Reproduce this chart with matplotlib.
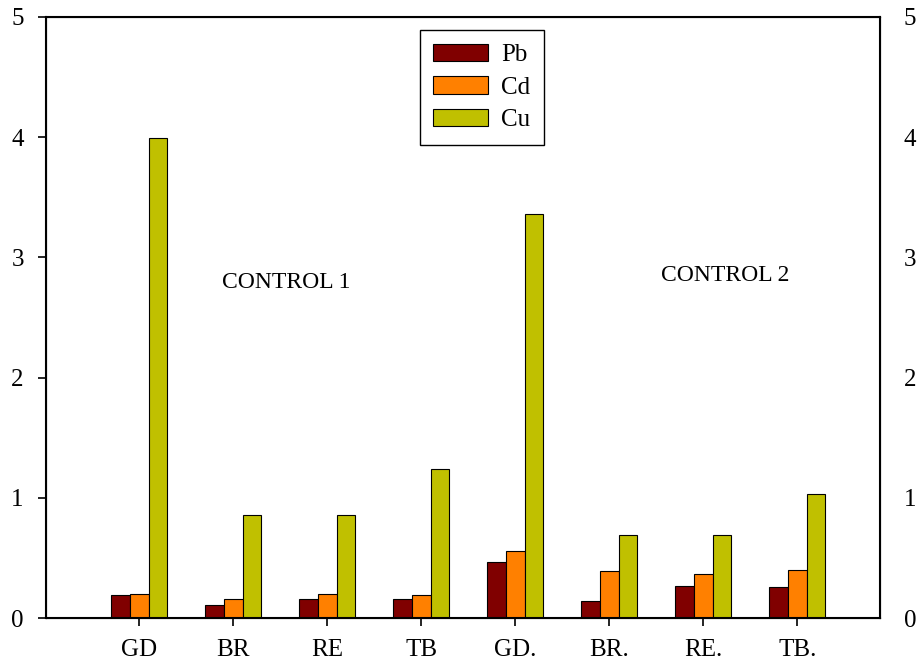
import numpy as np
import matplotlib.pyplot as plt
import matplotlib

matplotlib.rcParams['font.family'] = ['Liberation Serif', 'DejaVu Serif']

# data
categories = ['GD', 'BR', 'RE', 'TB', 'GD.', 'BR.', 'RE.', 'TB.']
pb = [0.19, 0.11, 0.16, 0.16, 0.47, 0.14, 0.27, 0.26]
cd = [0.20, 0.16, 0.20, 0.19, 0.56, 0.39, 0.37, 0.40]
cu = [3.99, 0.86, 0.86, 1.24, 3.36, 0.69, 0.69, 1.03]

SERIES = [
    ('Pb', pb, '#800000'),
    ('Cd', cd, '#FF8000'),
    ('Cu', cu, '#C0C000'),
]

fig = plt.figure(figsize=(9.21, 6.66), dpi=100)
ax = fig.add_axes([0.05, 0.072, 0.9055, 0.9025])

x = np.arange(len(categories))
w = 0.2
for i, (label, vals, color) in enumerate(SERIES):
    ax.bar(x + (i - 1) * w, vals, width=w, color=color,
           edgecolor='black', linewidth=0.8, label=label)

ax.set_xlim(-0.99, 7.88)
ax.set_ylim(0, 5)
ax.set_xticks(x)
ax.set_xticklabels(categories, fontsize=18)
ax.set_yticks(range(6))
ax.tick_params(axis='y', labelsize=18, length=6, width=1.2, pad=10)
ax.tick_params(axis='x', length=6, width=1.2, pad=9)
for s in ax.spines.values():
    s.set_linewidth(1.5)

ax2 = ax.twinx()
ax2.set_ylim(0, 5)
ax2.set_yticks(range(6))
ax2.tick_params(axis='y', labelsize=18, length=0, pad=17)

ax.text(1.56, 2.79, 'CONTROL 1', fontsize=17, ha='center', va='center')
ax.text(6.23, 2.85, 'CONTROL 2', fontsize=17, ha='center', va='center')

leg = ax.legend(loc='upper center', bbox_to_anchor=(0.5225, 0.978), fontsize=18,
                handlelength=2.2, handleheight=0.7, labelspacing=0.4,
                borderpad=0.55, handletextpad=0.5, borderaxespad=0,
                fancybox=False, framealpha=1, edgecolor='black')
leg.get_frame().set_linewidth(1.0)

fig.savefig('out.png', dpi=100)
